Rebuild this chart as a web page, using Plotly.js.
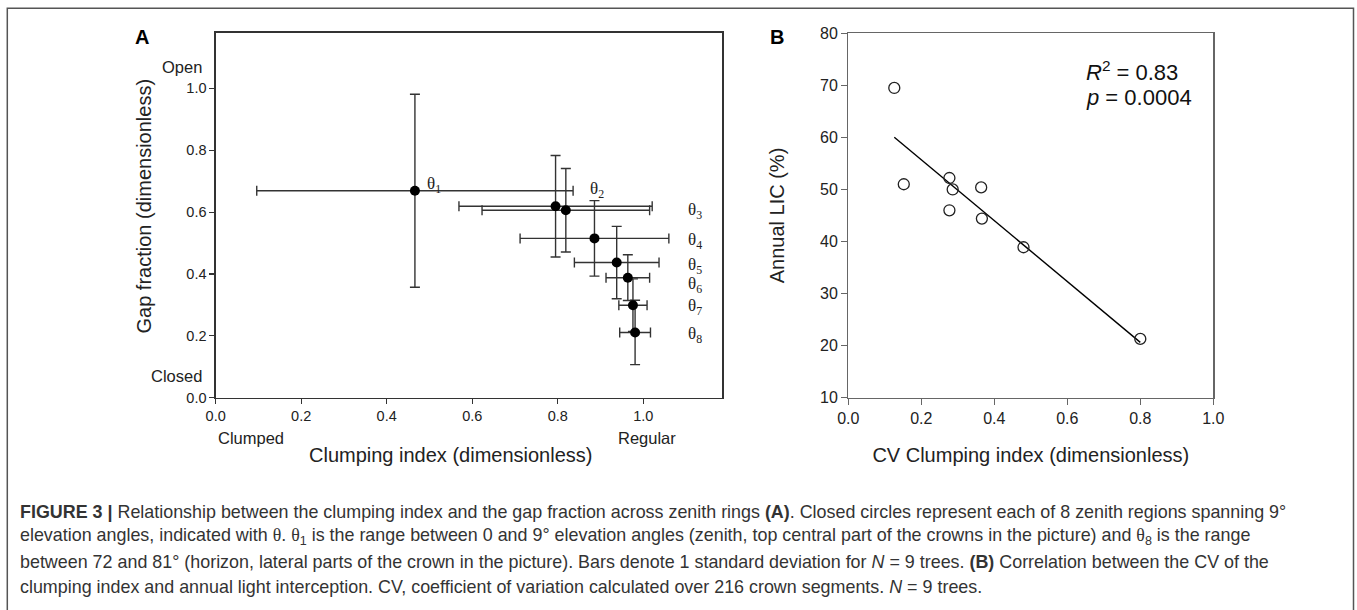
<!DOCTYPE html>
<html><head><meta charset="utf-8">
<script src="https://cdn.plot.ly/plotly-3.0.1.min.js"></script>
<style>html,body{margin:0;padding:0;background:#fff}#chart{width:1357px;height:610px}</style>
</head><body><div id="chart"></div>
<script>
// ---- Panel A data: clumping index vs gap fraction per zenith ring ----
const ringNames = ['θ<sub>1</sub>','θ<sub>2</sub>','θ<sub>3</sub>','θ<sub>4</sub>','θ<sub>5</sub>','θ<sub>6</sub>','θ<sub>7</sub>','θ<sub>8</sub>'];
const clumpingIndex = [0.466, 0.795, 0.819, 0.886, 0.938, 0.964, 0.976, 0.981];
const clumpingSD    = [0.370, 0.226, 0.196, 0.174, 0.099, 0.051, 0.033, 0.036];
const gapFraction   = [0.669, 0.619, 0.606, 0.515, 0.437, 0.388, 0.299, 0.211];
const gapSD         = [0.312, 0.164, 0.135, 0.122, 0.117, 0.074, 0.085, 0.104];
const ticksA = [0, 0.2, 0.4, 0.6, 0.8, 1.0];
const tickTextA = ['0.0','0.2','0.4','0.6','0.8','1.0'];

// ---- Panel B data: CV of clumping index vs annual LIC ----
const cvClumping = [0.126, 0.152, 0.277, 0.286, 0.277, 0.364, 0.366, 0.480, 0.800];
const annualLIC  = [69.5, 51.0, 52.2, 50.0, 46.0, 50.4, 44.4, 38.9, 21.3];
const ticksBx = [0, 0.2, 0.4, 0.6, 0.8, 1.0];
const tickTextBx = ['0.0','0.2','0.4','0.6','0.8','1.0'];
const ticksBy = [10, 20, 30, 40, 50, 60, 70, 80];
const statsText = ['<i>R</i><sup>2</sup> = 0.83', '<i>p</i> = 0.0004'];

const TH = '<span style="font-family:\'Liberation Serif\',serif">θ</span>';
const captionLines = [
  '<b>FIGURE 3 |</b> Relationship between the clumping index and the gap fraction across zenith rings <b>(A)</b>. Closed circles represent each of 8 zenith regions spanning 9°',
  'elevation angles, indicated with ' + TH + '. ' + TH + '<sub>1</sub> is the range between 0 and 9° elevation angles (zenith, top central part of the crowns in the picture) and ' + TH + '<sub>8</sub> is the range',
  'between 72 and 81° (horizon, lateral parts of the crown in the picture). Bars denote 1 standard deviation for <i>N</i> = 9 trees. <b>(B)</b> Correlation between the CV of the',
  'clumping index and annual light interception. CV, coefficient of variation calculated over 216 crown segments. <i>N</i> = 9 trees.'
];

// ---- layout helpers (pixel -> paper) ----
const W = 1357, H = 610;
const px = v => v / W;
const py = v => 1 - v / H;
const SANS = '"Liberation Sans", Arial, sans-serif';
const SERIF = '"Liberation Serif", "Times New Roman", serif';

// label placement for ring labels (data coords of panel A)
const ringLabelPos = [[0.49,0.698],[0.872,0.682],[1.10,0.612],[1.10,0.517],[1.10,0.437],[1.10,0.375],[1.10,0.302],[1.10,0.213]];

// least squares fit for panel B
const n = cvClumping.length;
const mx = cvClumping.reduce((a,b)=>a+b,0)/n;
const my = annualLIC.reduce((a,b)=>a+b,0)/n;
let sxy = 0, sxx = 0;
for (let i=0;i<n;i++){ sxy += (cvClumping[i]-mx)*(annualLIC[i]-my); sxx += (cvClumping[i]-mx)**2; }
const slope = sxy/sxx, intercept = my - slope*mx;
const fitX = [Math.min(...cvClumping), Math.max(...cvClumping)];
const fitY = fitX.map(x => intercept + slope*x);

const traces = [
  {
    type:'scatter', mode:'markers', x: clumpingIndex, y: gapFraction, xaxis:'x', yaxis:'y',
    marker:{color:'#000', size:10},
    error_x:{type:'data', array: clumpingSD, visible:true, color:'#333', thickness:1.4, width:5},
    error_y:{type:'data', array: gapSD, visible:true, color:'#333', thickness:1.4, width:5},
    hoverinfo:'x+y', showlegend:false
  },
  {
    type:'scatter', mode:'lines', x: fitX, y: fitY, xaxis:'x2', yaxis:'y2',
    line:{color:'#000', width:1.4}, showlegend:false, hoverinfo:'skip'
  },
  {
    type:'scatter', mode:'markers', x: cvClumping, y: annualLIC, xaxis:'x2', yaxis:'y2',
    marker:{symbol:'circle-open', color:'#222', size:11, line:{width:1.3, color:'#222'}},
    showlegend:false
  }
];

const axA = {
  showline:true, mirror:true, linecolor:'#333', linewidth:1.3, showgrid:false, zeroline:false,
  ticks:'outside', ticklen:5, tickcolor:'#333', tickwidth:1.2,
  tickfont:{family:SANS, size:14.5, color:'#222'}, fixedrange:true
};
const axB = {
  showline:true, mirror:true, linecolor:'#666', linewidth:1.3, showgrid:false, zeroline:false,
  ticks:'outside', ticklen:6, tickcolor:'#666', tickwidth:1.2,
  tickfont:{family:SANS, size:16, color:'#222'}, fixedrange:true
};

const annotations = [];
// panel letters
annotations.push({xref:'paper', yref:'paper', x:px(141.7), y:py(37), text:'<b>A</b>', showarrow:false, xanchor:'center', yanchor:'middle', font:{family:SANS, size:20, color:'#000'}});
annotations.push({xref:'paper', yref:'paper', x:px(776.7), y:py(37), text:'<b>B</b>', showarrow:false, xanchor:'center', yanchor:'middle', font:{family:SANS, size:20, color:'#000'}});
// end labels panel A
annotations.push({xref:'paper', yref:'paper', x:px(203.5), y:py(66.7), text:'Open', showarrow:false, xanchor:'right', yanchor:'middle', font:{family:SANS, size:16.5, color:'#222'}});
annotations.push({xref:'paper', yref:'paper', x:px(203.5), y:py(376), text:'Closed', showarrow:false, xanchor:'right', yanchor:'middle', font:{family:SANS, size:16.5, color:'#222'}});
annotations.push({xref:'paper', yref:'paper', x:px(216), y:py(438), text:'Clumped', showarrow:false, xanchor:'left', yanchor:'middle', font:{family:SANS, size:16.5, color:'#222'}});
annotations.push({xref:'paper', yref:'paper', x:px(647), y:py(438), text:'Regular', showarrow:false, xanchor:'center', yanchor:'middle', font:{family:SANS, size:16.5, color:'#222'}});
// axis titles panel A
annotations.push({xref:'paper', yref:'paper', x:px(450), y:py(455), text:'Clumping index (dimensionless)', showarrow:false, xanchor:'center', yanchor:'middle', font:{family:SANS, size:20, color:'#222'}});
annotations.push({xref:'paper', yref:'paper', x:px(143), y:py(206.5), text:'Gap fraction (dimensionless)', textangle:-90, showarrow:false, xanchor:'center', yanchor:'middle', font:{family:SANS, size:20, color:'#222'}});
// ring labels
ringNames.forEach((t,i)=>{
  annotations.push({xref:'x', yref:'y', x:ringLabelPos[i][0], y:ringLabelPos[i][1], text:t, showarrow:false, xanchor:'left', yanchor:'middle', yshift:-3, font:{family:SERIF, size:17, color:'#222'}});
});
// stats panel B
annotations.push({xref:'paper', yref:'paper', x:px(1084), y:py(87), text:statsText[0], showarrow:false, xanchor:'left', yanchor:'bottom', font:{family:SANS, size:22, color:'#111'}});
annotations.push({xref:'paper', yref:'paper', x:px(1084), y:py(83), text:statsText[1], showarrow:false, xanchor:'left', yanchor:'top', font:{family:SANS, size:22, color:'#111'}});
// caption
const capY = [511.5, 536.5, 561.5, 586.5];
captionLines.forEach((t,i)=>{
  annotations.push({xref:'paper', yref:'paper', x:px(18), y:py(capY[i]), text:t, showarrow:false, xanchor:'left', yanchor:'middle', align:'left', font:{family:SANS, size:17.9, color:'#333'}});
});

const layout = {
  width:W, height:H, margin:{l:0,r:0,t:0,b:0}, paper_bgcolor:'#fff', plot_bgcolor:'rgba(0,0,0,0)',
  showlegend:false,
  xaxis: Object.assign({}, axA, {domain:[px(215.7), px(722.3)], range:[0,1.185], tickvals:ticksA, ticktext:tickTextA, anchor:'y'}),
  yaxis: Object.assign({}, axA, {domain:[py(397.7), py(32.7)], range:[0,1.18], tickvals:ticksA, ticktext:tickTextA, anchor:'x'}),
  xaxis2: Object.assign({}, axB, {domain:[px(848.3), px(1213.3)], range:[0,1.0], tickvals:ticksBx, ticktext:tickTextBx, anchor:'y2',
    title:{text:'CV Clumping index (dimensionless)', font:{family:SANS, size:20, color:'#222'}, standoff:21}}),
  yaxis2: Object.assign({}, axB, {domain:[py(397.7), py(33.3)], range:[10,80], tickvals:ticksBy, anchor:'x2',
    title:{text:'Annual LIC (%)', font:{family:SANS, size:20, color:'#222'}, standoff:30}}),
  annotations: annotations,
  shapes:[{type:'rect', xref:'paper', yref:'paper', x0:px(7.3), x1:px(1353.5), y0:-0.05, y1:py(8.3), line:{color:'#555', width:1.5}, fillcolor:'rgba(0,0,0,0)'}]
};

Plotly.newPlot('chart', traces, layout, {displayModeBar:false, staticPlot:true});
</script>
</body></html>
